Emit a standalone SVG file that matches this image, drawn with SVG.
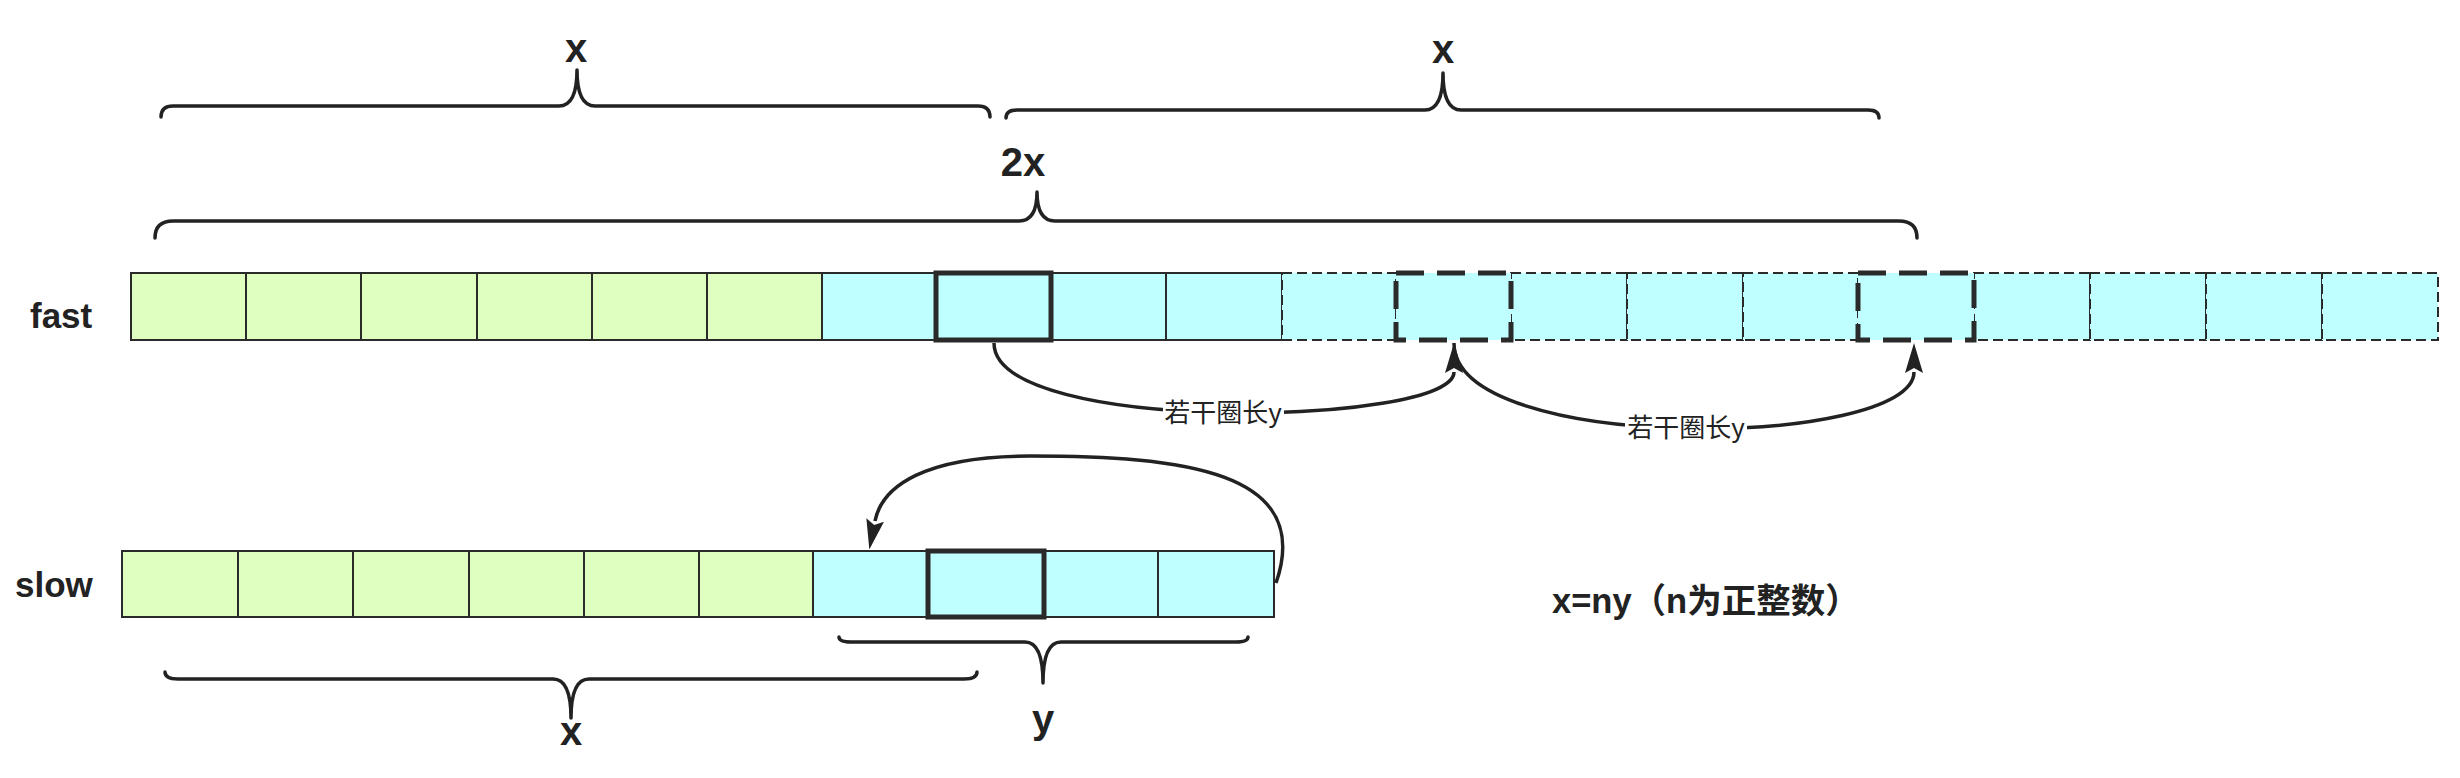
<svg xmlns="http://www.w3.org/2000/svg" width="2460" height="778" viewBox="0 0 2460 778">
<defs>
<style>
.g{fill:#DEFFC0;stroke:#2a2a2a;stroke-width:2}
.c{fill:#C0FFFF;stroke:#2a2a2a;stroke-width:2}
.d{stroke-dasharray:10 5}
.b{stroke-width:5}
.bd{stroke-width:5;stroke-dasharray:28 13}
.brace{fill:none;stroke:#222;stroke-width:3.5;stroke-linejoin:round;stroke-linecap:round}
.t{font-family:"Liberation Sans","Noto Sans CJK SC",sans-serif;fill:#222;font-weight:bold}
.arc{fill:none;stroke:#222;stroke-width:3.5}
.el{font-family:"Noto Sans CJK SC","Liberation Sans",sans-serif;font-size:26px;fill:#222;text-anchor:middle}
</style>
<marker id="ah" viewBox="0 0 30 18" refX="1" refY="9" markerWidth="30" markerHeight="18" markerUnits="userSpaceOnUse" orient="auto"><path d="M0 0 L30 9 L0 18 L5 9 z" fill="#222"/></marker>
</defs>
<rect width="2460" height="778" fill="#fff"/>

<g id="row-labels">
<text class="t" x="30" y="328" font-size="35">fast</text>
<text class="t" x="15" y="597" font-size="35">slow</text>
</g>

<g id="fast-row">
<rect id="f0" class="g" x="131" y="273" width="115" height="67"/>
<rect id="f1" class="g" x="246" y="273" width="115" height="67"/>
<rect id="f2" class="g" x="361" y="273" width="116" height="67"/>
<rect id="f3" class="g" x="477" y="273" width="115" height="67"/>
<rect id="f4" class="g" x="592" y="273" width="115" height="67"/>
<rect id="f5" class="g" x="707" y="273" width="115" height="67"/>
<rect id="f6" class="c" x="822" y="273" width="114" height="67"/>
<rect id="f8" class="c" x="1051" y="273" width="115" height="67"/>
<rect id="f9" class="c" x="1166" y="273" width="116" height="67"/>
<rect id="f10" class="c d" x="1282" y="273" width="114" height="67"/>
<rect id="f12" class="c d" x="1511" y="273" width="116" height="67"/>
<rect id="f13" class="c d" x="1627" y="273" width="116" height="67"/>
<rect id="f14" class="c d" x="1743" y="273" width="115" height="67"/>
<rect id="f16" class="c d" x="1974" y="273" width="116" height="67"/>
<rect id="f17" class="c d" x="2090" y="273" width="116" height="67"/>
<rect id="f18" class="c d" x="2206" y="273" width="116" height="67"/>
<rect id="f19" class="c d" x="2322" y="273" width="116" height="67"/>
<rect id="f7" class="c b" x="936" y="273" width="115" height="67"/>
<rect id="f11" class="c bd" x="1396" y="273" width="115" height="67"/>
<rect id="f15" class="c bd" x="1858" y="273" width="116" height="67"/>
</g>

<g id="slow-row">
<rect id="s0" class="g" x="122" y="551" width="116" height="66"/>
<rect id="s1" class="g" x="238" y="551" width="115" height="66"/>
<rect id="s2" class="g" x="353" y="551" width="116" height="66"/>
<rect id="s3" class="g" x="469" y="551" width="115" height="66"/>
<rect id="s4" class="g" x="584" y="551" width="115" height="66"/>
<rect id="s5" class="g" x="699" y="551" width="114" height="66"/>
<rect id="s6" class="c" x="813" y="551" width="115" height="66"/>
<rect id="s8" class="c" x="1044" y="551" width="114" height="66"/>
<rect id="s9" class="c" x="1158" y="551" width="116" height="66"/>
<rect id="s7" class="c b" x="928" y="551" width="116" height="66"/>
</g>

<g id="brace-x-left">
<path class="brace" d="M161 117 Q161 106 173 106 L559 106 Q577 106 577 70 Q577 106 595 106 L978 106 Q990 106 990 117"/>
<text class="t" x="576" y="62" font-size="40" text-anchor="middle">x</text>
</g>
<g id="brace-x-right">
<path class="brace" d="M1006 118 Q1006 110 1017 110 L1425 110 Q1443 110 1443 73 Q1443 110 1461 110 L1868 110 Q1879 110 1879 118"/>
<text class="t" x="1443" y="63" font-size="40" text-anchor="middle">x</text>
</g>
<g id="brace-2x">
<path class="brace" d="M155 238 Q155 221 173 221 L1019 221 Q1037 221 1037 192 Q1037 221 1055 221 L1899 221 Q1917 221 1917 238"/>
<text class="t" x="1023" y="176" font-size="40" text-anchor="middle">2x</text>
</g>
<g id="brace-x-bottom">
<path class="brace" d="M165 672 Q165 679 178 679 L553 679 Q571 679 571 718 Q571 679 589 679 L964 679 Q977 679 977 672"/>
<text class="t" x="571" y="745" font-size="40" text-anchor="middle">x</text>
</g>
<g id="brace-y">
<path class="brace" d="M839 637 Q839 642 851 642 L1025 642 Q1043 642 1043 683 Q1043 642 1061 642 L1236 642 Q1248 642 1248 637"/>
<text class="t" x="1043" y="733" font-size="40" text-anchor="middle">y</text>
</g>

<g id="note">
<text class="t" x="1552" y="613" font-size="34.5">x=ny（n为正整数）</text>
</g>

<g id="connectors">
<path class="arc" marker-end="url(#ah)" d="M994 343 C994 436 1454 426 1454 372"/>
<rect x="1163" y="397" width="121" height="32" fill="#fff"/>
<text class="el" x="1223" y="422">若干圈长y</text>
<path class="arc" marker-end="url(#ah)" d="M1454 343 C1454 456 1914 448 1914 372"/>
<rect x="1625" y="412" width="122" height="32" fill="#fff"/>
<text class="el" x="1686" y="437">若干圈长y</text>
<path class="arc" marker-end="url(#ah)" d="M1276 583 C1315 470 1180 456 1030 456 C925 456 882 486 875 521"/>
</g>
</svg>
